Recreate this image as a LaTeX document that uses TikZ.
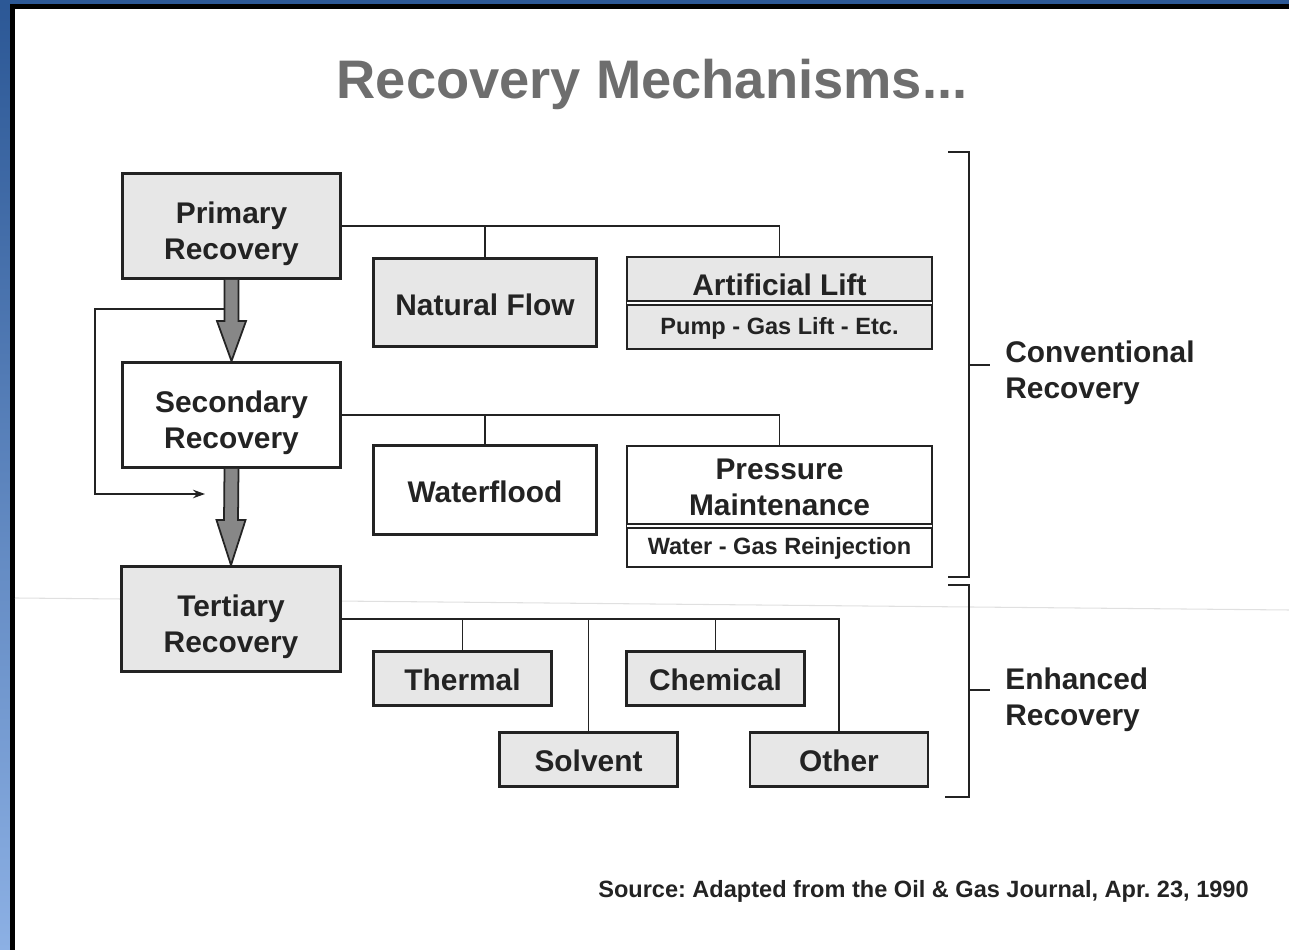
\documentclass[tikz,border=0pt]{standalone}
\usepackage{fontspec}
\setmainfont{Liberation Sans}
\usetikzlibrary{positioning,calc,arrows.meta}
\definecolor{framedark}{RGB}{44,88,150}
\definecolor{framelight}{RGB}{140,176,228}
\definecolor{boxgray}{RGB}{231,231,231}
\definecolor{arrowgray}{RGB}{135,135,135}
\definecolor{titlegray}{RGB}{110,110,110}
\definecolor{inkcolor}{RGB}{35,35,35}

\begin{document}
\begin{tikzpicture}[
    box/.style={rectangle, draw=inkcolor, line width=1.6pt, inner sep=0pt, align=center, text=inkcolor, font=\fontsize{17}{20.5}\selectfont\bfseries},
    graybox/.style={box, fill=boxgray},
    whitebox/.style={box, fill=white},
    textdrop/.style={execute at begin node={\rule{0pt}{#1}}},
    stage/.style={textdrop=41.9pt, minimum width=4.36cm, minimum height=2.10cm},
    method/.style={textdrop=13.8pt, minimum width=3.56cm, minimum height=1.08cm},
    part/.style={box, draw=none, outer sep=0pt, minimum width=6.10cm},
    subbox/.style={font=\fontsize{13.4}{16}\selectfont\bfseries},
    boxline/.style={draw=inkcolor, line width=1.6pt},
    doubleline/.style={draw=inkcolor, line width=0.9pt, double=white, double distance=1.3pt},
    link/.style={draw=inkcolor, line width=0.8pt},
    bigarrow/.style={draw=inkcolor, line width=1pt, fill=arrowgray, line join=miter},
    bracket/.style={draw=inkcolor, line width=0.8pt},
    sidelabel/.style={anchor=west, align=left, inner sep=0pt, text=inkcolor, font=\fontsize{17}{20.5}\selectfont\bfseries},
    titletext/.style={font=\fontsize{30.9}{36}\selectfont\bfseries, text=titlegray},
    sourcetext/.style={anchor=east, inner sep=0pt, text=inkcolor, font=\fontsize{13.4}{16}\selectfont\bfseries\frenchspacing}
]
\useasboundingbox (0,0) rectangle (25.78,19);

% Slide frame
\fill[framedark] (0,18.92) rectangle (25.78,19);
\shade[top color=framedark, bottom color=framelight] (0,0) rectangle (0.2,18.92);
\fill[black] (0.2,0) rectangle (0.3,18.92);
\fill[black] (0.2,18.82) rectangle (25.78,18.92);

% faint scan line
\draw[black!12, line width=0.6pt] (0.3,7.04) -- (25.78,6.80);

% Title
\node[titletext] (title) at (13.04, 17.32) {Recovery Mechanisms...};

% Main stages
\node[graybox, stage] (prim) at (4.63, 14.48) {Primary\\Recovery};
\node[whitebox, stage] (sec) at (4.63, 10.70) {Secondary\\Recovery};
\node[graybox, stage, minimum width=4.38cm] (ter) at (4.62, 6.62) {Tertiary\\Recovery};

% Primary methods
\node[graybox, textdrop=14.6pt, minimum width=4.46cm, minimum height=1.76cm] (natflow) at (9.70, 12.95) {Natural Flow};
\node[part, fill=boxgray, textdrop=18pt, minimum height=0.92cm] (lift) at (15.59, 13.40) {Artificial Lift};
\node[part, fill=boxgray, subbox, textdrop=12pt, minimum height=0.92cm] (liftsub) at (15.59, 12.48) {Pump - Gas Lift - Etc.};
\draw[boxline] (lift.north west) rectangle (liftsub.south east);
\draw[doubleline] (lift.south west) -- (lift.south east);

% Secondary methods
\node[whitebox, textdrop=14.6pt, minimum width=4.46cm, minimum height=1.78cm] (water) at (9.70, 9.20) {Waterflood};
\node[part, fill=white, textdrop=34pt, minimum height=1.60cm] (press) at (15.59, 9.28) {Pressure\\Maintenance};
\node[part, fill=white, subbox, textdrop=12pt, minimum height=0.82cm] (presssub) at (15.59, 8.07) {Water - Gas Reinjection};
\draw[boxline] (press.north west) rectangle (presssub.south east);
\draw[doubleline] (press.south west) -- (press.south east);

% Tertiary methods
\node[graybox, method] (thermal) at (9.25, 5.43) {Thermal};
\node[graybox, method] (chem) at (14.31, 5.43) {Chemical};
\node[graybox, method] (solvent) at (11.77, 3.81) {Solvent};
\node[graybox, method] (other) at (16.78, 3.81) {Other};

% Tree connectors
\draw[link] (prim.east) -- (prim.east -| lift.north) -- (lift.north);
\draw[link] (prim.east -| natflow.north) -- (natflow.north);
\draw[link] (sec.east) -- (sec.east -| press.north) -- (press.north);
\draw[link] (sec.east -| water.north) -- (water.north);
\draw[link] (ter.east) -- (ter.east -| other.north) -- (other.north);
\draw[link] (ter.east -| thermal.north) -- (thermal.north);
\draw[link] (ter.east -| solvent.north) -- (solvent.north);
\draw[link] (ter.east -| chem.north) -- (chem.north);

% Stage arrows
\draw[bigarrow] ($(prim.south)+(-0.14,0)$) -- ($(sec.north)+(-0.14,0.8)$) -- ($(sec.north)+(-0.29,0.8)$) -- (sec.north) -- ($(sec.north)+(0.29,0.8)$) -- ($(sec.north)+(0.14,0.8)$) -- ($(prim.south)+(0.14,0)$);
\draw[bigarrow] ($(sec.south)+(-0.14,0)$) -- ($(ter.north)+(-0.14,0.9)$) -- ($(ter.north)+(-0.29,0.9)$) -- (ter.north) -- ($(ter.north)+(0.29,0.9)$) -- ($(ter.north)+(0.14,0.9)$) -- ($(sec.south)+(0.14,0)$);

% Bypass of secondary
\coordinate (bypstart) at (4.49, 12.82);
\coordinate (bypend) at (4.10, 9.12);
\draw[link, -{Stealth[length=0.24cm, width=0.17cm]}] (bypstart) -- (1.90, 12.82) |- (bypend);

% Brackets
\draw[bracket] (18.96, 15.96) -- (19.38, 15.96) -- (19.38, 7.46) -- (18.96, 7.46);
\draw[bracket] (19.38, 11.70) -- (19.80, 11.70);
\draw[bracket] (18.96, 7.30) -- (19.38, 7.30) -- (19.38, 3.06) -- (18.90, 3.06);
\draw[bracket] (19.38, 5.20) -- (19.80, 5.20);
\node[sidelabel] (conv) at (20.10, 11.54) {Conventional\\Recovery};
\node[sidelabel] (enh) at (20.10, 5.01) {Enhanced\\Recovery};

% Source
\node[sourcetext] (source) at (24.98, 1.17) {Source: Adapted from the Oil \& Gas Journal, Apr. 23, 1990};

\end{tikzpicture}
\end{document}
